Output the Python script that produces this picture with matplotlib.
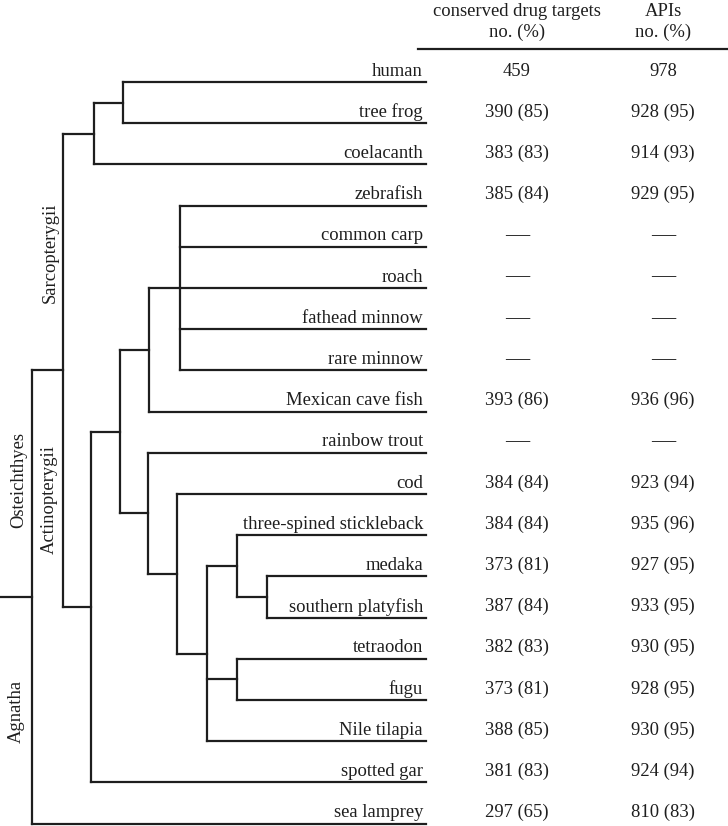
import matplotlib.pyplot as plt

# species (leaves, top to bottom)
species = ["human", "tree frog", "coelacanth", "zebrafish", "common carp",
           "roach", "fathead minnow", "rare minnow", "Mexican cave fish",
           "rainbow trout", "cod", "three-spined stickleback", "medaka",
           "southern platyfish", "tetraodon", "fugu", "Nile tilapia",
           "spotted gar", "sea lamprey"]

# conserved drug targets, no. and (%)
target_no = [459, 390, 383, 385, None, None, None, None, 393, None,
             384, 384, 373, 387, 382, 373, 388, 381, 297]
target_pct = [None, 85, 83, 84, None, None, None, None, 86, None,
              84, 84, 81, 84, 83, 81, 85, 83, 65]

# APIs, no. and (%)
api_no = [978, 928, 914, 929, None, None, None, None, 936, None,
          923, 935, 927, 933, 930, 928, 930, 924, 810]
api_pct = [None, 95, 93, 95, None, None, None, None, 96, None,
           94, 96, 95, 95, 95, 95, 95, 94, 83]

# tree topology: (node depth, children); ints are leaf indices
tree = (32, [(63, [(94, [(123, [0, 1]), 2]),
                   (91, [(120, [(149, [(180, [3, 4, 5, 6, 7]), 8]),
                                (148, [9, (177, [10, (207, [(237, [11, (267, [12, 13])]),
                                                            (237, [14, 15]),
                                                            16])])])]),
                         17])]),
             18])

clades = [("Sarcopterygii", 50, 253), ("Osteichthyes", 19, 480),
          ("Actinopterygii", 49, 500), ("Agnatha", 16, 711)]

col = "#1e1e1e"
lw = 1.6
font = "Liberation Serif"
fs = 13.4

y0, dy = 82, 41.2
x_leaf = 426
x_targets, x_apis = 517, 663

fig = plt.figure(figsize=(7.28, 8.26), dpi=100)
ax = fig.add_axes([0, 0, 1, 1])
ax.set_xlim(0, 728)
ax.set_ylim(826, 0)
ax.axis("off")


def leaf_y(i):
    return y0 + dy * i


def draw(node):
    # returns (x, y) of the node
    if isinstance(node, int):
        return x_leaf, leaf_y(node)
    x, children = node
    pts = [draw(c) for c in children]
    ys = [p[1] for p in pts]
    for cx, cy in pts:
        ax.plot([x, cx], [cy, cy], color=col, lw=lw, solid_capstyle="projecting")
    ax.plot([x, x], [min(ys), max(ys)], color=col, lw=lw, solid_capstyle="projecting")
    return x, (min(ys) + max(ys)) / 2


rx, ry = draw(tree)
ax.plot([0, rx], [ry, ry], color=col, lw=lw)


def fmt(n, p):
    if n is None:
        return "\u2014"
    if p is None:
        return str(n)
    return f"{n} ({p})"


for i, name in enumerate(species):
    y = leaf_y(i) - 11
    ax.text(x_leaf - 3, y, name, ha="right", va="center", family=font, fontsize=fs, color=col)
    size = fs * 1.3 if target_no[i] is None else fs
    ax.text(x_targets, y, fmt(target_no[i], target_pct[i]), ha="center", va="center",
            family=font, fontsize=size, color=col)
    ax.text(x_apis, y, fmt(api_no[i], api_pct[i]), ha="center", va="center",
            family=font, fontsize=size, color=col)

for name, x, y in clades:
    ax.text(x, y, name, rotation=90, ha="center", va="center", family=font,
            fontsize=fs, color=col)

# table header
ax.text(x_targets, 12, "conserved drug targets", ha="center", va="center", family=font, fontsize=fs, color=col)
ax.text(x_targets, 32, "no. (%)", ha="center", va="center", family=font, fontsize=fs, color=col)
ax.text(x_apis, 12, "APIs", ha="center", va="center", family=font, fontsize=fs, color=col)
ax.text(x_apis, 32, "no. (%)", ha="center", va="center", family=font, fontsize=fs, color=col)
ax.plot([418, 728], [49, 49], color=col, lw=lw)

fig.savefig("out.png", dpi=100)
